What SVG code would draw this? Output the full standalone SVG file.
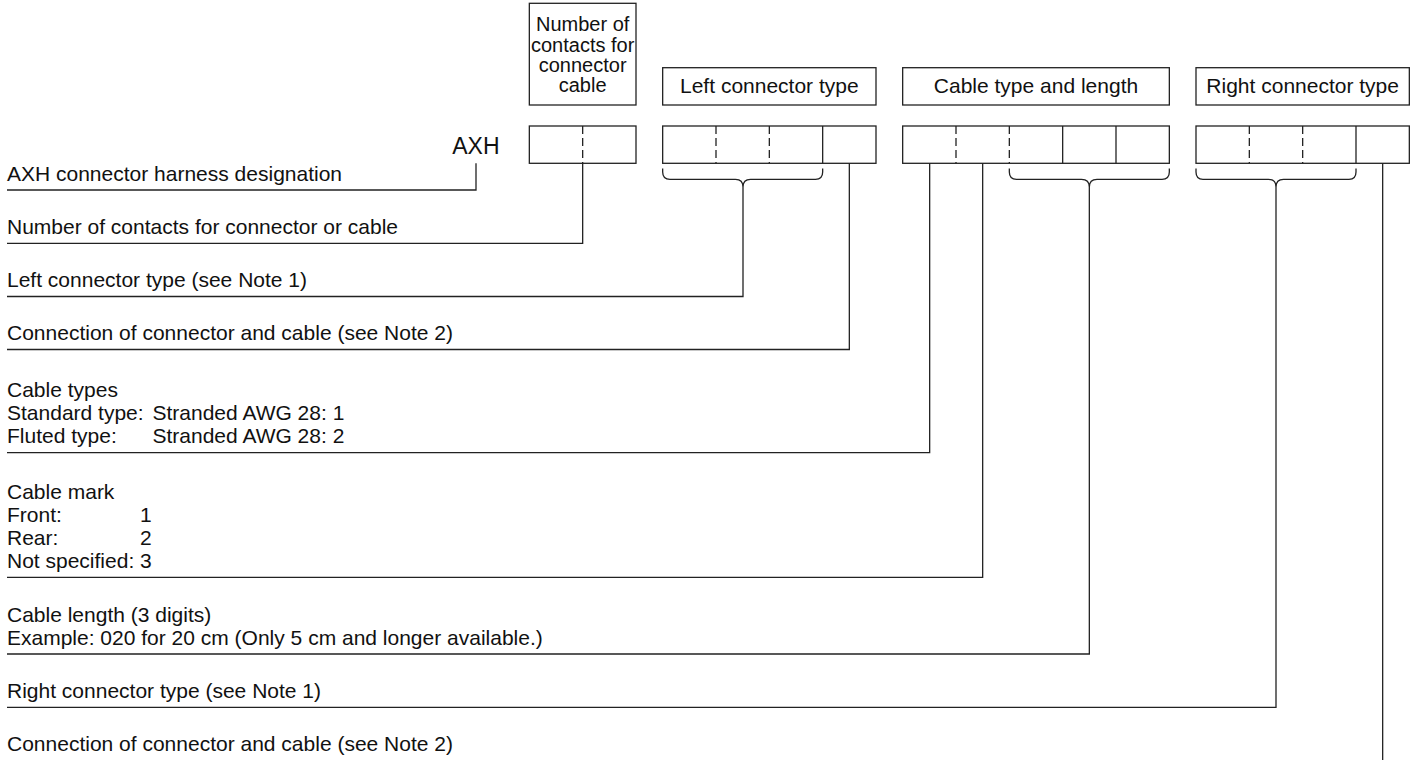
<svg xmlns="http://www.w3.org/2000/svg" width="1415" height="760" viewBox="0 0 1415 760">
<style>
  text { font-family: "Liberation Sans", Arial, Helvetica, sans-serif; fill: #111; }
  .lbl { font-size: 21px; }
  .hdr { font-size: 21px; text-anchor: middle; }
  .hdr4 { font-size: 20px; text-anchor: middle; }
  .axh { font-size: 23px; text-anchor: end; }
  .box { fill: #fff; stroke: #222; stroke-width: 1.3; }
  .div { stroke: #222; stroke-width: 1.3; }
  .dash { stroke: #222; stroke-width: 1.3; stroke-dasharray: 8 4; }
  .ln { fill: none; stroke: #222; stroke-width: 1.3; }
</style>

<g id="hdr-contacts">
  <rect class="box" x="529.33" y="3.3" width="106.67" height="101.7"/>
  <text class="hdr4" x="582.67" y="31">Number of</text>
  <text class="hdr4" x="582.67" y="51.5">contacts for</text>
  <text class="hdr4" x="582.67" y="72">connector</text>
  <text class="hdr4" x="582.67" y="92">cable</text>
</g>
<g id="hdr-left">
  <rect class="box" x="662.67" y="67.7" width="213.33" height="37.3"/>
  <text class="hdr" x="769.33" y="93.3">Left connector type</text>
</g>
<g id="hdr-cable">
  <rect class="box" x="902.67" y="67.7" width="266.67" height="37.3"/>
  <text class="hdr" x="1036" y="93.3">Cable type and length</text>
</g>
<g id="hdr-right">
  <rect class="box" x="1196" y="67.7" width="213.33" height="37.3"/>
  <text class="hdr" x="1302.67" y="93.3">Right connector type</text>
</g>

<g id="axh">
  <text class="axh" x="499.5" y="154">AXH</text>
</g>

<g id="cells-contacts">
  <rect class="box" x="529.33" y="126" width="106.67" height="37.3"/>
  <line class="dash" x1="582.67" y1="126" x2="582.67" y2="163.3"/>
</g>
<g id="cells-left">
  <rect class="box" x="662.67" y="126" width="213.33" height="37.3"/>
  <line class="dash" x1="716" y1="126" x2="716" y2="163.3"/>
  <line class="dash" x1="769.33" y1="126" x2="769.33" y2="163.3"/>
  <line class="div" x1="822.67" y1="126" x2="822.67" y2="163.3"/>
</g>
<g id="cells-cable">
  <rect class="box" x="902.67" y="126" width="266.67" height="37.3"/>
  <line class="dash" x1="956" y1="126" x2="956" y2="163.3"/>
  <line class="dash" x1="1009.33" y1="126" x2="1009.33" y2="163.3"/>
  <line class="div" x1="1062.67" y1="126" x2="1062.67" y2="163.3"/>
  <line class="div" x1="1116" y1="126" x2="1116" y2="163.3"/>
</g>
<g id="cells-right">
  <rect class="box" x="1196" y="126" width="213.33" height="37.3"/>
  <line class="dash" x1="1249.33" y1="126" x2="1249.33" y2="163.3"/>
  <line class="dash" x1="1302.67" y1="126" x2="1302.67" y2="163.3"/>
  <line class="div" x1="1356" y1="126" x2="1356" y2="163.3"/>
</g>

<g id="connectors">
  <path class="ln" d="M476 163.3 V190 H7"/>
  <path class="ln" d="M582.67 163.3 V243.3 H7"/>
  <path class="ln" d="M662.67 168.5 V172 Q662.67 179.3 670 179.3 H735.5 Q743 179.3 743 187 Q743 179.3 750.5 179.3 H815.5 Q822.67 179.3 822.67 172 V168.5"/>
  <path class="ln" d="M743 187 V296.5 H7"/>
  <path class="ln" d="M849.33 163.3 V349.5 H7"/>
  <path class="ln" d="M929.67 163.3 V452.7 H7"/>
  <path class="ln" d="M982.67 163.3 V577.3 H7"/>
  <path class="ln" d="M1009.33 168.5 V172 Q1009.33 179.3 1016.5 179.3 H1081.5 Q1089.33 179.3 1089.33 187 Q1089.33 179.3 1097 179.3 H1162 Q1169.33 179.3 1169.33 172 V168.5"/>
  <path class="ln" d="M1089.33 187 V654 H7"/>
  <path class="ln" d="M1196 168.5 V172 Q1196 179.3 1203 179.3 H1268.5 Q1276 179.3 1276 187 Q1276 179.3 1283.5 179.3 H1349 Q1356 179.3 1356 172 V168.5"/>
  <path class="ln" d="M1276 187 V707.3 H7"/>
  <path class="ln" d="M1382.67 163.3 V760"/>
</g>

<g id="label-axh"><text class="lbl" x="7" y="180.5">AXH connector harness designation</text></g>
<g id="label-contacts"><text class="lbl" x="7" y="233.8">Number of contacts for connector or cable</text></g>
<g id="label-left"><text class="lbl" x="7" y="287">Left connector type (see Note 1)</text></g>
<g id="label-conn1"><text class="lbl" x="7" y="340">Connection of connector and cable (see Note 2)</text></g>
<g id="label-cabletypes">
  <text class="lbl" x="7" y="397.2">Cable types</text>
  <text class="lbl" x="7" y="420.2">Standard type:</text>
  <text class="lbl" x="152.5" y="420.2">Stranded AWG 28: 1</text>
  <text class="lbl" x="7" y="443.2">Fluted type:</text>
  <text class="lbl" x="152.5" y="443.2">Stranded AWG 28: 2</text>
</g>
<g id="label-cablemark">
  <text class="lbl" x="7" y="498.8">Cable mark</text>
  <text class="lbl" x="7" y="521.8">Front:</text>
  <text class="lbl" x="140" y="521.8">1</text>
  <text class="lbl" x="7" y="544.8">Rear:</text>
  <text class="lbl" x="140" y="544.8">2</text>
  <text class="lbl" x="7" y="567.8">Not specified:</text>
  <text class="lbl" x="140" y="567.8">3</text>
</g>
<g id="label-length">
  <text class="lbl" x="7" y="621.5">Cable length (3 digits)</text>
  <text class="lbl" x="7" y="644.5">Example: 020 for 20 cm (Only 5 cm and longer available.)</text>
</g>
<g id="label-right"><text class="lbl" x="7" y="697.8">Right connector type (see Note 1)</text></g>
<g id="label-conn2"><text class="lbl" x="7" y="750.8">Connection of connector and cable (see Note 2)</text></g>
</svg>
